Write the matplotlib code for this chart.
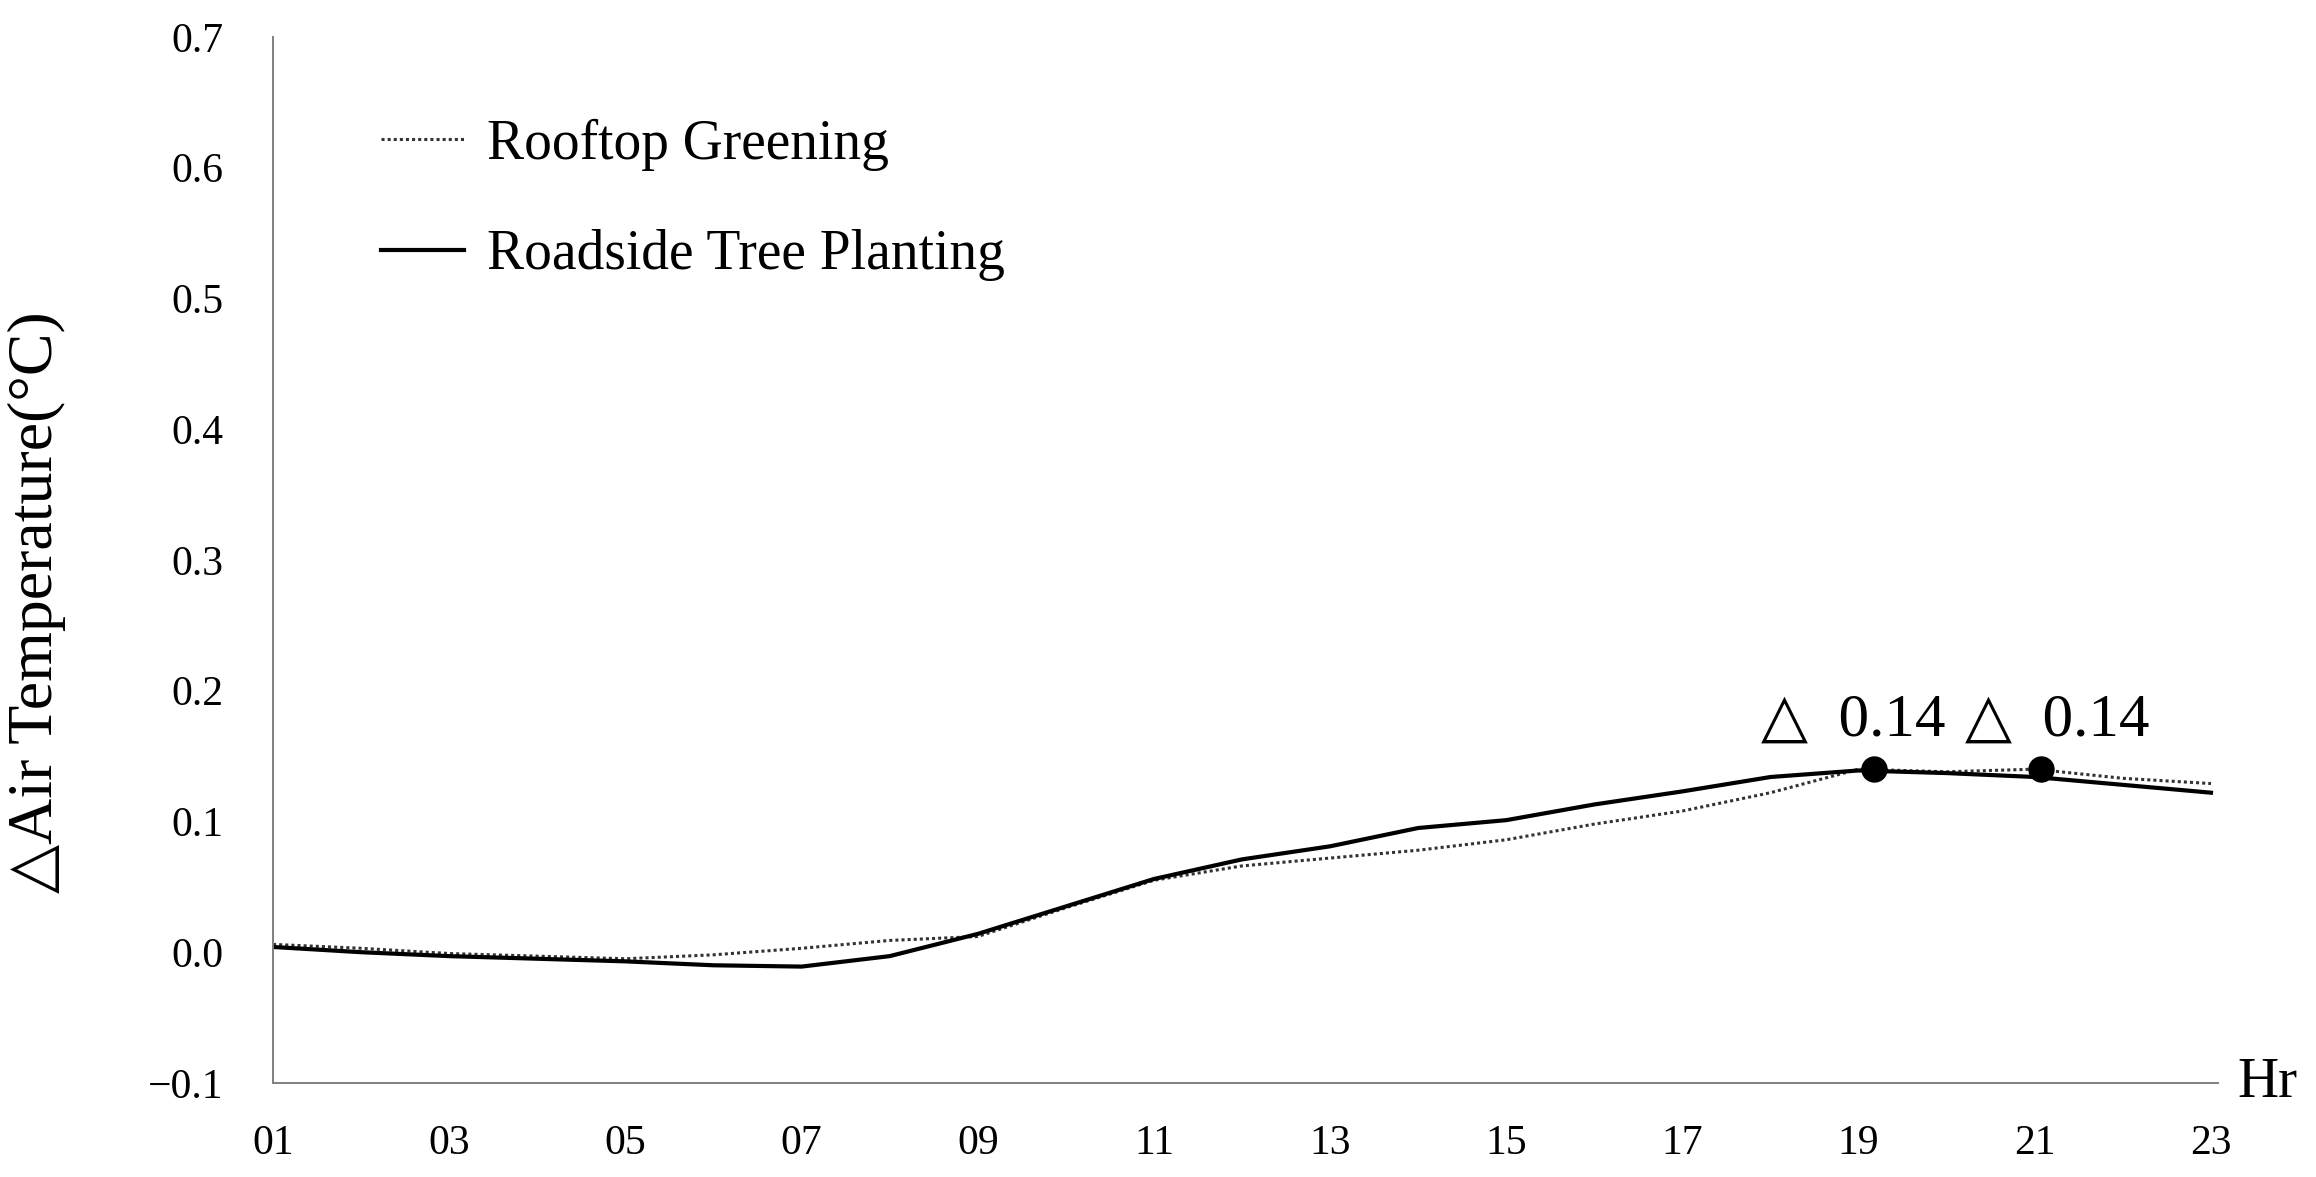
import matplotlib
matplotlib.use("Agg")
import matplotlib.pyplot as plt

plt.rcParams['font.family'] = ['Liberation Serif', 'DejaVu Sans']

hours = list(range(1, 24))
hour_labels = ["%02d" % h for h in hours]
rooftop = [0.006, 0.003, -0.001, -0.003, -0.005, -0.002, 0.003, 0.009, 0.012, 0.034, 0.055, 0.066,
           0.072, 0.078, 0.086, 0.098, 0.108, 0.122, 0.140, 0.138, 0.140, 0.133, 0.129]
roadside = [0.004, 0.000, -0.003, -0.005, -0.007, -0.010, -0.011, -0.003, 0.014, 0.035, 0.056, 0.071,
            0.081, 0.095, 0.101, 0.113, 0.123, 0.134, 0.139, 0.137, 0.134, 0.128, 0.122]

# peak markers and their labels
peak_x = [19.17, 21.07]
peak_y = [0.14, 0.14]
peak_labels = ["△  0.14", "△  0.14"]
peak_offsets = [(-15, 35), (12, 35)]

fig = plt.figure(figsize=(23.16, 11.77), dpi=100)
ax = fig.add_axes([0.1179, 0.0799, 0.8398, 0.8887])

ax.plot(hours, rooftop, color='#333333', linestyle=(0, (1, 1)), linewidth=2.2, label='Rooftop Greening')
ax.plot(hours, roadside, color='black', linestyle='-', linewidth=3.0, label='Roadside Tree Planting')
ax.plot(peak_x, peak_y, 'o', color='black', markersize=18, zorder=5)

for x, y, s, off in zip(peak_x, peak_y, peak_labels, peak_offsets):
    ax.annotate(s, (x, y), xytext=off, textcoords='offset points',
                ha='center', va='center', fontsize=44)

ax.set_xlim(1, 23.08)
ax.set_ylim(-0.1, 0.7)
ax.set_xticks(hours[::2])
ax.set_xticklabels(hour_labels[::2])
ax.set_yticks([-0.1, 0.0, 0.1, 0.2, 0.3, 0.4, 0.5, 0.6, 0.7])
ax.set_yticklabels(['\u22120.1', '0.0', '0.1', '0.2', '0.3', '0.4', '0.5', '0.6', '0.7'])
ax.tick_params(axis='both', length=0, labelsize=30)
ax.tick_params(axis='y', pad=36)
ax.tick_params(axis='x', pad=30)

for side in ['top', 'right']:
    ax.spines[side].set_visible(False)
for side in ['left', 'bottom']:
    ax.spines[side].set_color('#7f7f7f')
    ax.spines[side].set_linewidth(1.4)

ax.set_ylabel('△Air Temperature(°C)', fontsize=46)
ax.yaxis.set_label_coords(-0.1064, 0.46)

fig.text(2237 / 2316, 1 - 1097 / 1177, 'Hr', ha='left', va='baseline', fontsize=41)

leg = ax.legend(loc='center left', bbox_to_anchor=(381 / 2316, 1 - 200 / 1177),
                bbox_transform=fig.transFigure, frameon=False, fontsize=40,
                handlelength=1.5, handletextpad=0.4, labelspacing=1.05,
                borderpad=0, borderaxespad=0)

fig.savefig("out.png", dpi=100)
